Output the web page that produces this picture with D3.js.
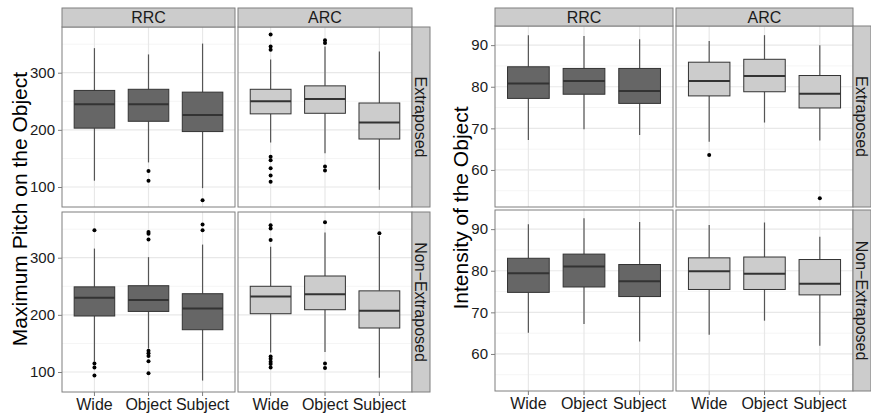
<!DOCTYPE html>
<html>
<head>
<meta charset="utf-8">
<script src="https://cdn.jsdelivr.net/npm/d3@7"></script>
<style>
  body { margin: 0; background: #fff; }
  text { font-family: "Liberation Sans", Arial, sans-serif; }
</style>
</head>
<body>
<svg id="chart"></svg>
<script>
// categories and facets
const categories = ["Wide", "Object", "Subject"];
const clauses = ["RRC", "ARC"];
const positions = ["Extraposed", "Non\u2212Extraposed"];
const boxFills = ["#666666", "#cccccc"];

// box stats per category: [lower whisker, q1, median, q3, upper whisker]
const pitchExtRRC = [[111, 203, 245, 269, 343], [143, 215, 245, 271, 332], [98, 197, 226, 266, 351]];
const pitchExtARC = [[178, 228, 250, 271, 323], [159, 229, 254, 277, 346], [95, 184, 213, 247, 337]];
const pitchNonRRC = [[118, 198, 230, 249, 316], [141, 206, 226, 251, 301], [85, 174, 211, 237, 323]];
const pitchNonARC = [[134, 202, 232, 250, 319], [135, 209, 236, 268, 344], [90, 177, 207, 242, 338]];

const pitchExtRRCOut = [[], [128, 111], [77]];
const pitchExtARCOut = [[367, 346, 340, 153, 147, 133, 120, 109], [357, 352, 136, 129], []];
const pitchNonRRCOut = [[348, 115, 108, 94], [345, 342, 332, 137, 133, 128, 119, 98], [358, 348]];
const pitchNonARCOut = [[357, 351, 331, 127, 123, 118, 114, 108], [362, 115, 107], [343]];

const intExtRRC = [[67.2, 77.2, 80.8, 84.8, 92.4], [69.8, 78.2, 81.4, 84.4, 92.2], [68.4, 76.0, 79.0, 84.4, 91.4]];
const intExtARC = [[66.8, 77.8, 81.4, 85.9, 91.0], [71.4, 78.8, 82.6, 86.6, 92.4], [67.1, 74.9, 78.3, 82.7, 90.0]];
const intNonRRC = [[65.1, 74.8, 79.4, 83.0, 91.2], [67.2, 76.1, 81.0, 84.0, 92.6], [63.0, 73.8, 77.5, 81.5, 91.7]];
const intNonARC = [[64.6, 75.5, 79.9, 83.1, 91.0], [68.0, 75.5, 79.3, 83.3, 91.6], [62.0, 74.2, 76.9, 82.7, 88.2]];

const intExtRRCOut = [[], [], []];
const intExtARCOut = [[63.6], [], [53.2]];
const intNonRRCOut = [[], [], []];
const intNonARCOut = [[], [], []];

// axis ticks
const pitchTicks = [100, 200, 300];
const pitchMinor = [150, 250, 350];
const intTicks = [60, 70, 80, 90];
const intMinor = [55, 65, 75, 85];

const width = 871, height = 413;
const svg = d3.select("#chart").attr("width", width).attr("height", height);

function drawChart(opt) {
  const g = svg.append("g");

  positions.forEach((pos, r) => {
    const top = opt.rowTop[r];
    const yScale = d3.scaleLinear().domain(opt.domain).range([top + opt.panelH, top]);

    clauses.forEach((cl, c) => {
      const left = opt.colLeft[c], w = opt.colW[c];
      const xScale = d3.scaleBand().domain(categories)
        .range([left, left + w]).paddingInner(0.25).paddingOuter(0.225);
      const boxes = opt.boxes[r][c], outs = opt.outliers[r][c];

      // panel background
      g.append("rect").attr("x", left).attr("y", top)
        .attr("width", w).attr("height", opt.panelH).attr("fill", "#fff");

      // grid lines
      g.selectAll(null).data(opt.minor).enter().append("line")
        .attr("x1", left).attr("x2", left + w)
        .attr("y1", d => yScale(d)).attr("y2", d => yScale(d))
        .attr("stroke", "#f5f5f5").attr("stroke-width", 1);
      g.selectAll(null).data(opt.ticks).enter().append("line")
        .attr("x1", left).attr("x2", left + w)
        .attr("y1", d => yScale(d)).attr("y2", d => yScale(d))
        .attr("stroke", "#e8e8e8").attr("stroke-width", 1.2);
      g.selectAll(null).data(categories).enter().append("line")
        .attr("x1", d => xScale(d) + xScale.bandwidth() / 2)
        .attr("x2", d => xScale(d) + xScale.bandwidth() / 2)
        .attr("y1", top).attr("y2", top + opt.panelH)
        .attr("stroke", "#e8e8e8").attr("stroke-width", 1.2);

      // boxplots
      categories.forEach((cat, i) => {
        const s = boxes[i];
        const cx = xScale(cat) + xScale.bandwidth() / 2;
        g.append("line").attr("x1", cx).attr("x2", cx)
          .attr("y1", yScale(s[0])).attr("y2", yScale(s[1]))
          .attr("stroke", "#555").attr("stroke-width", 1.2);
        g.append("line").attr("x1", cx).attr("x2", cx)
          .attr("y1", yScale(s[3])).attr("y2", yScale(s[4]))
          .attr("stroke", "#555").attr("stroke-width", 1.2);
        g.append("rect")
          .attr("x", xScale(cat)).attr("y", yScale(s[3]))
          .attr("width", xScale.bandwidth()).attr("height", yScale(s[1]) - yScale(s[3]))
          .attr("fill", boxFills[c]).attr("stroke", "#333").attr("stroke-width", 1);
        g.append("line").attr("x1", xScale(cat)).attr("x2", xScale(cat) + xScale.bandwidth())
          .attr("y1", yScale(s[2])).attr("y2", yScale(s[2]))
          .attr("stroke", "#333").attr("stroke-width", 2);
        g.selectAll(null).data(outs[i]).enter().append("circle")
          .attr("cx", cx).attr("cy", d => yScale(d)).attr("r", 2)
          .attr("fill", "#000");
      });

      // panel border
      g.append("rect").attr("x", left).attr("y", top)
        .attr("width", w).attr("height", opt.panelH)
        .attr("fill", "none").attr("stroke", "#7f7f7f").attr("stroke-width", 1);

      // y axis on the first column
      if (c === 0) {
        const ya = g.append("g").attr("transform", `translate(${left},0)`)
          .call(d3.axisLeft(yScale).tickValues(opt.ticks).tickSize(4).tickPadding(3));
        ya.select(".domain").remove();
        ya.selectAll("line").attr("stroke", "#7f7f7f");
        ya.selectAll("text").attr("font-size", 15).attr("fill", "#1a1a1a")
          .attr("font-family", "Liberation Sans, Arial, sans-serif");
      }

      // x axis on the bottom row
      if (r === positions.length - 1) {
        const xa = g.append("g").attr("transform", `translate(0,${top + opt.panelH})`)
          .call(d3.axisBottom(xScale).tickSize(4).tickPadding(3));
        xa.select(".domain").remove();
        xa.selectAll("line").attr("stroke", "#7f7f7f");
        xa.selectAll("text").attr("font-size", 16).attr("fill", "#1a1a1a")
          .attr("font-family", "Liberation Sans, Arial, sans-serif");
      }

      // top strips
      if (r === 0) {
        g.append("rect").attr("x", left).attr("y", opt.stripTop)
          .attr("width", w).attr("height", top - opt.stripTop)
          .attr("fill", "#cccccc").attr("stroke", "#7f7f7f").attr("stroke-width", 1);
        g.append("text").attr("x", left + w / 2).attr("y", (opt.stripTop + top) / 2)
          .attr("dy", "0.36em").attr("text-anchor", "middle")
          .attr("font-size", 16).attr("fill", "#1a1a1a").text(cl);
      }
    });

    // right strip
    const sx = opt.colLeft[1] + opt.colW[1];
    g.append("rect").attr("x", sx).attr("y", top)
      .attr("width", opt.stripW).attr("height", opt.panelH)
      .attr("fill", "#cccccc").attr("stroke", "#7f7f7f").attr("stroke-width", 1);
    g.append("text")
      .attr("transform", `translate(${sx + opt.stripW / 2},${top + opt.panelH / 2}) rotate(90)`)
      .attr("dy", "0.36em").attr("text-anchor", "middle")
      .attr("font-size", 16).attr("fill", "#1a1a1a").text(pos);
  });

  // y axis title
  g.append("text")
    .attr("transform", `translate(${opt.titleX},${opt.titleY}) rotate(-90)`)
    .attr("text-anchor", "middle").attr("font-size", 21).attr("fill", "#000")
    .text(opt.title);
}

drawChart({
  boxes: [[pitchExtRRC, pitchExtARC], [pitchNonRRC, pitchNonARC]],
  outliers: [[pitchExtRRCOut, pitchExtARCOut], [pitchNonRRCOut, pitchNonARCOut]],
  domain: [65, 380],
  ticks: pitchTicks, minor: pitchMinor,
  colLeft: [62, 238], colW: [173, 174],
  rowTop: [27, 212], panelH: 180,
  stripTop: 8, stripW: 18,
  title: "Maximum Pitch on the Object", titleX: 27, titleY: 209
});

drawChart({
  boxes: [[intExtRRC, intExtARC], [intNonRRC, intNonARC]],
  outliers: [[intExtRRCOut, intExtARCOut], [intNonRRCOut, intNonARCOut]],
  domain: [51.1, 94.6],
  ticks: intTicks, minor: intMinor,
  colLeft: [495, 676], colW: [178, 177],
  rowTop: [26, 210], panelH: 181,
  stripTop: 8, stripW: 18,
  title: "Intensity of the Object", titleX: 468, titleY: 208
});
</script>
</body>
</html>
